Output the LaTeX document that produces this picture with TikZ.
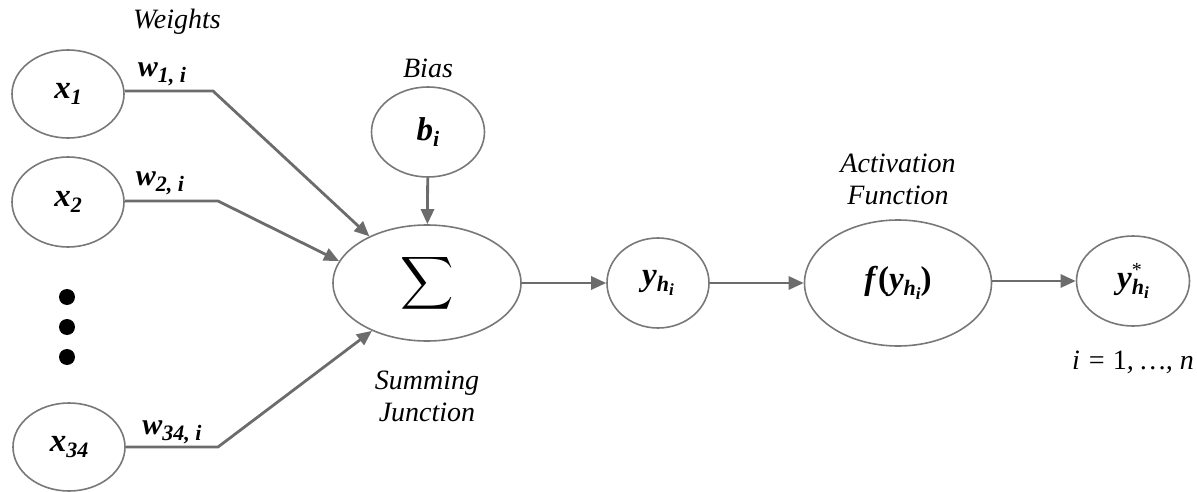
\documentclass[tikz,border=0pt]{standalone}
\usepackage{fontspec}
\usepackage{graphicx}
\setmainfont{Liberation Serif}
\usetikzlibrary{shapes.geometric,arrows.meta}
\definecolor{elgray}{RGB}{120,120,120}
\definecolor{lngray}{RGB}{108,108,108}
\newcommand\mysubA[1]{\raisebox{-6pt}{\fontsize{22}{22}\selectfont #1}}
\newcommand\mysubB[1]{\raisebox{-4pt}{\fontsize{17}{17}\selectfont #1}}
\newcommand\mysup[1]{\raisebox{12pt}{\fontsize{20}{20}\selectfont\mdseries\upshape #1}}
\tikzset{
  el/.style={ellipse, draw=elgray, line width=1.6pt, inner sep=0pt, font=\fontsize{33}{34}\selectfont\bfseries\itshape},
  conn/.style={draw=lngray, line width=2.8pt, -{Triangle[length=15pt,width=13pt]}, line join=miter},
  lbl/.style={font=\fontsize{28}{32}\selectfont\itshape, align=center, inner sep=0pt},
  wlbl/.style={font=\fontsize{30}{30}\selectfont\bfseries\itshape, inner sep=0pt},
}
\begin{document}
\begin{tikzpicture}[x=1pt,y=-1pt]
\useasboundingbox (0,0) rectangle (1197,492);
% nodes
\node[el, minimum width=112pt, minimum height=88pt] (x1) at (68,94) {x\mysubA{1}};
\node[el, minimum width=112pt, minimum height=90pt] (x2) at (68,202) {x\mysubA{2}};
\node[el, minimum width=112pt, minimum height=88pt] (x34) at (69,447) {x\mysubA{34}};
\node[el, minimum width=113pt, minimum height=90pt] (b) at (428,132) {b\mysubA{i}};
\node[el, minimum width=188pt, minimum height=116pt] (sum) at (427,283) {\scalebox{3.7}{$\displaystyle\sum$}};
\node[el, minimum width=102pt, minimum height=90pt] (yh) at (658,283) {y\mysubA{h\mysubB{i}}};
\node[el, minimum width=187pt, minimum height=126pt] (f) at (898,283) {f\textup{(}y\mysubA{h\mysubB{i}}\textup{)}};
\node[el, minimum width=113pt, minimum height=90pt] (ys) at (1133,281) {y\makebox[0pt][l]{\mysup{*}}\mysubA{h\mysubB{i}}};
% dots
\fill (67,297) circle (8pt);
\fill (67,327) circle (8pt);
\fill (67,357) circle (8pt);
% labels
\node[lbl] (wt) at (177,22) {Weights};
\node[lbl] (bias) at (428,68) {Bias};
\node[lbl] (act) at (898,179) {Activation\\Function};
\node[lbl] (sj) at (427,396) {Summing\\Junction};
\node[lbl] (rng) at (1133,362) {i = \textup{1}, \dots, n};
\node[wlbl] (w1) at (162,74) {w\mysubA{1, i}};
\node[wlbl] (w2) at (160,183) {w\mysubA{2, i}};
\node[wlbl] (w34) at (172,432) {w\mysubA{34, i}};
% connector bends
\coordinate (k1) at (213,91);
\coordinate (k2) at (218,201);
\coordinate (k34) at (218,447);
\draw[conn] (x1.east |- k1) -- (k1) -- (sum.141);
\draw[conn] (x2.east |- k2) -- (k2) -- (sum.166);
\draw[conn] (x34.east |- k34) -- (k34) -- (sum.221);
\draw[conn] (b) -- (sum);
\draw[conn] (sum) -- (yh);
\draw[conn] (yh) -- (f);
\draw[conn] (f.east |- ys) -- (ys.west);
\end{tikzpicture}
\end{document}
